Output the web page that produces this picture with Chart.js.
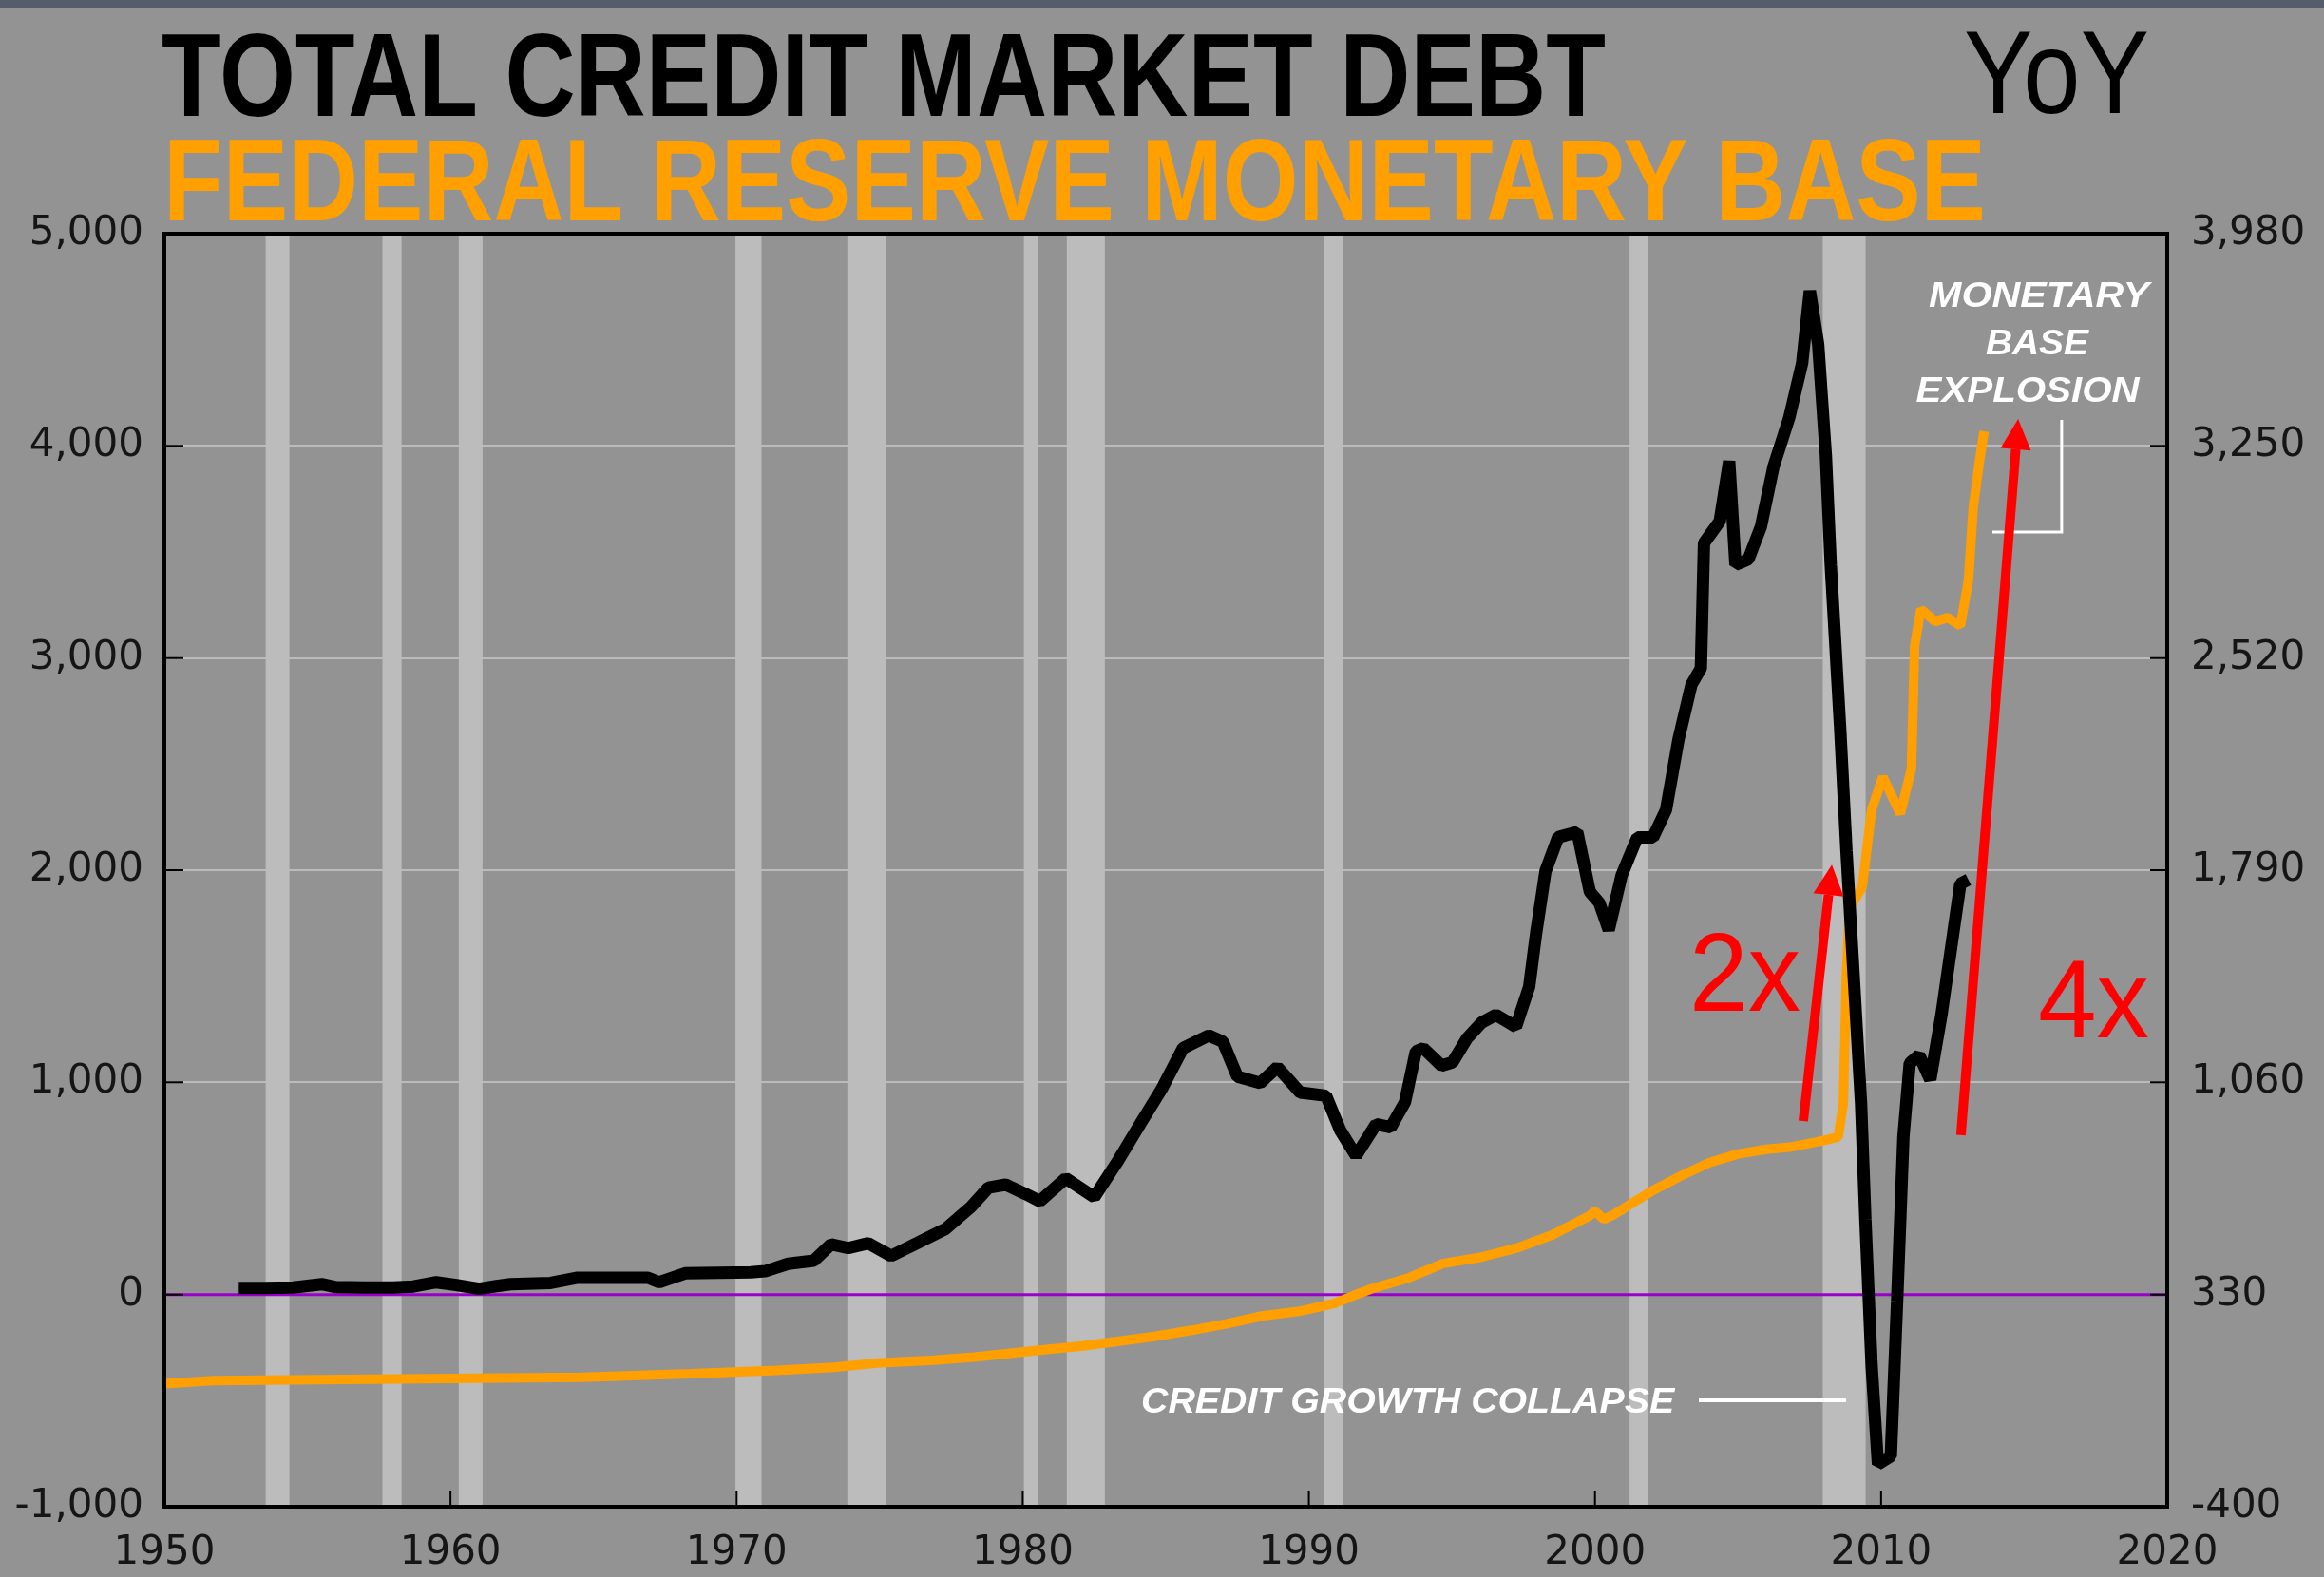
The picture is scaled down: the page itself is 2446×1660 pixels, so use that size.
<!DOCTYPE html>
<html>
<head>
<meta charset="utf-8">
<title>Total Credit Market Debt YoY vs Federal Reserve Monetary Base</title>
<script src="https://cdn.jsdelivr.net/npm/chart.js@4.4.1/dist/chart.umd.min.js"></script>
<style>
  html, body { margin: 0; padding: 0; background: #939393; }
  canvas { display: block; }
</style>
</head>
<body>
<canvas id="debt-chart" width="2446" height="1660"></canvas>
<script>
// total credit market debt, YoY change (billions, left axis)
const creditYears = [
  1952.6, 1953.5, 1954.5, 1955.5, 1956.0, 1957.0, 1958.0, 1958.7, 1959.5, 1960.2,
  1961.0, 1961.6, 1962.1, 1963.5, 1964.4, 1966.9, 1967.3, 1968.2, 1970.5, 1971.0,
  1971.8, 1972.7, 1973.3, 1973.9, 1974.6, 1975.4, 1976.3, 1977.3, 1978.2, 1978.8,
  1979.4, 1980.1, 1980.6, 1981.5, 1982.5, 1983.3, 1984.1, 1984.85, 1985.6, 1986.5,
  1987.0, 1987.5, 1988.3, 1988.9, 1989.7, 1990.6, 1991.1, 1991.65, 1992.35, 1992.86,
  1993.36, 1993.74, 1994.0, 1994.64, 1995.02, 1995.52, 1996.03, 1996.54, 1997.24, 1997.7,
  1997.94, 1998.27, 1998.71, 1999.38, 1999.82, 2000.15, 2000.48, 2000.93, 2001.48, 2002.03,
  2002.48, 2002.92, 2003.37, 2003.7, 2003.81, 2004.36, 2004.69, 2004.91, 2005.36, 2005.8,
  2006.24, 2006.79, 2007.24, 2007.51, 2007.8, 2008.07, 2008.24, 2008.57, 2008.79, 2009.12,
  2009.3, 2009.45, 2009.67, 2009.89, 2010.34, 2010.56, 2010.78, 2011.0, 2011.33, 2011.72,
  2012.11, 2012.44, 2012.77, 2013.05
];
const creditValues = [
  31, 31, 33, 49, 35, 33, 33, 38, 58, 45,
  27, 40, 49, 55, 79, 79, 58, 100, 105, 110,
  145, 160, 237, 219, 242, 182, 242, 309, 414, 504,
  518, 474, 440, 548, 459, 624, 803, 967, 1161, 1221,
  1191, 1027, 997, 1072, 952, 937, 773, 654, 803, 788,
  907, 1146, 1161, 1079, 1094, 1206, 1281, 1318, 1262, 1450,
  1700, 1995, 2155, 2180, 1898, 1846, 1718, 1975, 2155, 2155,
  2283, 2617, 2874, 2951, 3542, 3645, 3928, 3439, 3465, 3619,
  3902, 4133, 4390, 4730, 4480, 3954, 3440, 2668, 2090, 1319,
  900, 356, -338, -800, -762, -29, 743, 1090, 1128, 1013,
  1319, 1628, 1936, 1955
];

// federal reserve monetary base (billions, right axis)
const baseYears = [
  1950.0, 1951.7, 1964.6, 1968.4, 1971.4, 1973.4, 1974.9, 1976.9, 1978.3, 1979.4,
  1980.5, 1982.1, 1983.3, 1984.6, 1985.9, 1987.1, 1988.4, 1989.7, 1990.9, 1991.6,
  1992.2, 1993.5, 1994.7, 1996.0, 1997.3, 1998.5, 1999.8, 2000.0, 2000.3, 2000.6,
  2001.0, 2002.0, 2003.0, 2004.0, 2005.0, 2006.0, 2006.8, 2007.9, 2008.5, 2008.68,
  2008.79, 2008.9, 2009.34, 2009.67, 2010.06, 2010.67, 2011.06, 2011.17, 2011.39, 2011.89,
  2012.33, 2012.77, 2013.05, 2013.22, 2013.44, 2013.6
];
const baseValues = [
  23, 34, 45, 58, 69, 80, 94, 104, 115, 126,
  138, 153, 169, 186, 207, 229, 257, 273, 300, 328,
  350, 388, 437, 458, 491, 535, 600, 617, 589, 602,
  626, 687, 738, 784, 814, 830, 837, 858, 872, 985,
  1435, 1661, 1731, 1998, 2111, 1984, 2139, 2561, 2688, 2646,
  2659, 2631, 2786, 3040, 3200, 3300
];

// NBER recessions, shaded
const recessionStarts = [1953.54, 1957.62, 1960.29, 1969.96, 1973.87, 1980.04, 1981.54, 1990.54, 2001.21, 2007.96];
const recessionEnds   = [1954.37, 1958.29, 1961.12, 1970.87, 1975.21, 1980.54, 1982.87, 1991.21, 2001.87, 2009.46];

// tick labels
const yearTicks = [1950, 1960, 1970, 1980, 1990, 2000, 2010, 2020];
const debtTicks = [-1000, 0, 1000, 2000, 3000, 4000, 5000];
const baseTicks = [-400, 330, 1060, 1790, 2520, 3250, 3980];

const ORANGE = '#FFA000';
const tickFont = { family: 'DejaVu Sans', size: 42 };
const tickColor = '#151515';

function toPoints(xs, ys) {
  return xs.map((x, i) => ({ x: x, y: ys[i] }));
}

function setTicks(values) {
  return (scale) => { scale.ticks = values.map((v) => ({ value: v })); };
}

function fitText(ctx, text, x, y, font, color, width, align) {
  ctx.save();
  ctx.font = font;
  const w = ctx.measureText(text).width;
  ctx.translate(x, y);
  ctx.scale(width / w, 1);
  ctx.fillStyle = color;
  ctx.textAlign = align || 'left';
  ctx.textBaseline = 'alphabetic';
  ctx.fillText(text, 0, 0);
  ctx.restore();
}

function arrow(ctx, x1, y1, x2, y2) {
  const ang = Math.atan2(y2 - y1, x2 - x1);
  const headLen = 32, headHalf = 16, shaft = 10;
  const bx = x2 - Math.cos(ang) * headLen;
  const by = y2 - Math.sin(ang) * headLen;
  ctx.save();
  ctx.strokeStyle = '#FF0000';
  ctx.fillStyle = '#FF0000';
  ctx.lineWidth = shaft;
  ctx.beginPath();
  ctx.moveTo(x1, y1);
  ctx.lineTo(bx, by);
  ctx.stroke();
  ctx.beginPath();
  ctx.moveTo(x2, y2);
  ctx.lineTo(bx + Math.sin(ang) * headHalf, by - Math.cos(ang) * headHalf);
  ctx.lineTo(bx - Math.sin(ang) * headHalf, by + Math.cos(ang) * headHalf);
  ctx.closePath();
  ctx.fill();
  ctx.restore();
}

const decor = {
  id: 'decor',
  beforeDraw(chart) {
    const ctx = chart.ctx;
    ctx.save();
    ctx.fillStyle = '#939393';
    ctx.fillRect(0, 0, chart.width, chart.height);
    ctx.fillStyle = '#555c6b';
    ctx.fillRect(0, 0, chart.width, 8);
    ctx.restore();
  },
  beforeDatasetsDraw(chart) {
    const { ctx, chartArea: a, scales } = chart;
    ctx.save();
    ctx.fillStyle = '#BCBCBC';
    recessionStarts.forEach((s, i) => {
      const x1 = scales.x.getPixelForValue(s);
      const x2 = scales.x.getPixelForValue(recessionEnds[i]);
      ctx.fillRect(x1, a.top, x2 - x1, a.bottom - a.top);
    });
    const y0 = scales.y.getPixelForValue(0);
    ctx.strokeStyle = '#9A00CC';
    ctx.lineWidth = 3;
    ctx.beginPath();
    ctx.moveTo(a.left, y0);
    ctx.lineTo(a.right, y0);
    ctx.stroke();
    ctx.restore();
  },
  afterDraw(chart) {
    const { ctx, chartArea: a, scales } = chart;
    const px = (v) => scales.x.getPixelForValue(v);
    const py = (v) => scales.y.getPixelForValue(v);

    ctx.save();
    // frame
    ctx.strokeStyle = '#000';
    ctx.lineWidth = 4;
    ctx.strokeRect(a.left, a.top, a.right - a.left, a.bottom - a.top);

    // inner tick marks
    ctx.lineWidth = 2;
    ctx.beginPath();
    debtTicks.slice(1, -1).forEach((v) => {
      const y = py(v);
      ctx.moveTo(a.left, y); ctx.lineTo(a.left + 20, y);
    });
    baseTicks.slice(1, -1).forEach((v) => {
      const y = scales.y1.getPixelForValue(v);
      ctx.moveTo(a.right, y); ctx.lineTo(a.right - 18, y);
    });
    yearTicks.slice(1, -1).forEach((v) => {
      const x = px(v);
      ctx.moveTo(x, a.bottom); ctx.lineTo(x, a.bottom - 17);
    });
    ctx.stroke();

    // white callouts
    ctx.strokeStyle = '#FFFFFF';
    ctx.lineWidth = 4;
    ctx.beginPath();
    ctx.moveTo(px(2003.63), py(-498)); ctx.lineTo(px(2008.78), py(-498));
    ctx.stroke();
    ctx.lineWidth = 3;
    ctx.beginPath();
    ctx.moveTo(px(2016.31), py(4122));
    ctx.lineTo(px(2016.31), py(3594));
    ctx.lineTo(px(2013.89), py(3594));
    ctx.stroke();
    ctx.restore();

    const wf = 'italic bold 37px "Liberation Sans", Arial, sans-serif';
    fitText(ctx, 'CREDIT GROWTH COLLAPSE', px(1984.14), py(-557), wf, '#FFFFFF', 561, 'left');
    fitText(ctx, 'MONETARY', px(2015.52), py(4654), wf, '#FFFFFF', 232, 'center');
    fitText(ctx, 'BASE', px(2015.45), py(4431), wf, '#FFFFFF', 108, 'center');
    fitText(ctx, 'EXPLOSION', px(2015.12), py(4207), wf, '#FFFFFF', 235, 'center');

    // red arrows and multipliers
    arrow(ctx, px(2007.28), py(818), px(2008.28), py(2026));
    arrow(ctx, px(2012.79), py(751), px(2014.79), py(4127));
    const rf = '116px "Liberation Sans", Arial, sans-serif';
    fitText(ctx, '2x', px(2003.3), py(1336), rf, '#FF0000', 117, 'left');
    fitText(ctx, '4x', px(2015.48), py(1212), rf, '#FF0000', 117, 'left');

    // titles
    fitText(ctx, 'TOTAL CREDIT MARKET DEBT', 170, 122, 'bold 124px "Liberation Sans", Arial, sans-serif', '#000000', 1520, 'left');
    fitText(ctx, 'YoY', 2067, 119, '124px "Liberation Sans", Arial, sans-serif', '#000000', 195, 'left');
    fitText(ctx, 'FEDERAL RESERVE MONETARY BASE', 172, 232, 'bold 122px "Liberation Sans", Arial, sans-serif', ORANGE, 1918, 'left');
  }
};

new Chart(document.getElementById('debt-chart'), {
  type: 'line',
  data: {
    datasets: [
      {
        label: 'Total Credit Market Debt YoY',
        data: toPoints(creditYears, creditValues),
        yAxisID: 'y',
        borderColor: '#000000',
        borderWidth: 13,
        pointRadius: 0,
        tension: 0,
        borderJoinStyle: 'bevel'
      },
      {
        label: 'Federal Reserve Monetary Base',
        data: toPoints(baseYears, baseValues),
        yAxisID: 'y1',
        borderColor: ORANGE,
        borderWidth: 10,
        pointRadius: 0,
        tension: 0,
        borderJoinStyle: 'bevel'
      }
    ]
  },
  plugins: [decor],
  options: {
    responsive: false,
    animation: false,
    devicePixelRatio: 1,
    layout: { padding: { top: 246, left: 0, right: 0, bottom: 0 } },
    plugins: {
      legend: { display: false },
      title: { display: false },
      tooltip: { enabled: false }
    },
    scales: {
      x: {
        type: 'linear',
        position: 'bottom',
        min: yearTicks[0],
        max: yearTicks[yearTicks.length - 1],
        afterBuildTicks: setTicks(yearTicks),
        afterFit: (s) => { s.height = 74; },
        grid: { display: false, drawTicks: false },
        border: { display: false },
        ticks: {
          padding: 24,
          font: tickFont,
          color: tickColor,
          maxRotation: 0,
          autoSkip: false,
          callback: (v) => String(v)
        }
      },
      y: {
        position: 'left',
        min: debtTicks[0],
        max: debtTicks[debtTicks.length - 1],
        afterBuildTicks: setTicks(debtTicks),
        afterFit: (s) => { s.width = 173; },
        grid: {
          drawTicks: false,
          lineWidth: 2,
          color: (c) => (c.tick && c.tick.value > -1000 && c.tick.value < 5000 && c.tick.value !== 0) ? '#BBBBBB' : 'rgba(0,0,0,0)'
        },
        border: { display: false },
        ticks: {
          padding: 22,
          font: tickFont,
          color: tickColor,
          callback: (v) => Number(v).toLocaleString('en-US')
        }
      },
      y1: {
        position: 'right',
        min: baseTicks[0],
        max: baseTicks[baseTicks.length - 1],
        afterBuildTicks: setTicks(baseTicks),
        afterFit: (s) => { s.width = 165; },
        grid: { display: false, drawTicks: false },
        border: { display: false },
        ticks: {
          padding: 25,
          font: tickFont,
          color: tickColor,
          callback: (v) => Number(v).toLocaleString('en-US')
        }
      }
    }
  }
});
</script>
</body>
</html>
